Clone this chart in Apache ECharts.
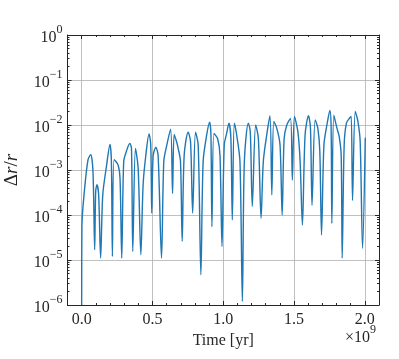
<!DOCTYPE html>
<html>
<head>
<meta charset="utf-8">
<script src="https://cdn.jsdelivr.net/npm/echarts@6/dist/echarts.min.js"></script>
<style>
  html, body { margin: 0; padding: 0; background: #fff; }
  #main { width: 399px; height: 359px; }
</style>
</head>
<body>
<div id="main"></div>
<script>
// time in yr, relative change of r
const timeYr = [
  0.000e9, 0.002e9, 0.021e9, 0.045e9, 0.064e9, 0.080e9, 0.092e9, 0.099e9, 0.108e9, 0.120e9,
  0.134e9, 0.149e9, 0.175e9, 0.200e9, 0.210e9, 0.217e9, 0.229e9, 0.257e9, 0.271e9, 0.283e9,
  0.297e9, 0.316e9, 0.340e9, 0.352e9, 0.361e9, 0.380e9, 0.399e9, 0.418e9, 0.434e9, 0.453e9,
  0.476e9, 0.488e9, 0.495e9, 0.505e9, 0.524e9, 0.540e9, 0.564e9, 0.580e9, 0.599e9, 0.628e9,
  0.642e9, 0.653e9, 0.670e9, 0.682e9, 0.698e9, 0.710e9, 0.724e9, 0.752e9, 0.769e9, 0.784e9,
  0.804e9, 0.823e9, 0.842e9, 0.858e9, 0.883e9, 0.904e9, 0.913e9, 0.920e9, 0.934e9, 0.960e9,
  0.977e9, 0.991e9, 1.007e9, 1.024e9, 1.040e9, 1.054e9, 1.064e9, 1.078e9, 1.095e9, 1.118e9,
  1.135e9, 1.149e9, 1.177e9, 1.191e9, 1.205e9, 1.229e9, 1.248e9, 1.267e9, 1.283e9, 1.307e9,
  1.330e9, 1.343e9, 1.357e9, 1.378e9, 1.401e9, 1.416e9, 1.430e9, 1.449e9, 1.475e9, 1.488e9,
  1.503e9, 1.527e9, 1.543e9, 1.559e9, 1.578e9, 1.602e9, 1.616e9, 1.627e9, 1.649e9, 1.668e9,
  1.682e9, 1.694e9, 1.711e9, 1.732e9, 1.753e9, 1.762e9, 1.767e9, 1.781e9, 1.803e9, 1.819e9,
  1.833e9, 1.840e9, 1.854e9, 1.870e9, 1.894e9, 1.904e9, 1.913e9, 1.932e9, 1.951e9, 1.967e9,
  1.984e9, 2.003e9
];
const deltaR = [
  1.0e-6, 6.0e-5, 3.9e-4, 1.7e-3, 2.2e-3, 9.1e-4, 1.7e-5, 3.3e-4, 4.7e-4, 2.8e-4,
  1.1e-5, 2.8e-4, 1.2e-3, 3.7e-3, 1.55e-3, 1.2e-5, 1.7e-3, 1.3e-3, 6.5e-4, 1.1e-5,
  1.55e-3, 2.6e-3, 3.9e-3, 3.0e-3, 1.55e-5, 3.0e-3, 1.1e-3, 1.3e-5, 4.7e-4, 2.1e-3,
  6.3e-3, 3.6e-3, 1.1e-4, 2.1e-3, 3.2e-3, 2.1e-3, 1.1e-5, 1.55e-3, 3.3e-3, 8.1e-3,
  3.0e-4, 6.2e-3, 4.3e-3, 3.0e-3, 1.55e-3, 2.6e-5, 2.1e-3, 6.9e-3, 4.3e-3, 1.1e-4,
  6.9e-3, 3.6e-3, 4.7e-6, 1.55e-3, 6.0e-3, 1.15e-2, 6.0e-3, 5.5e-5, 6.5e-3, 5.0e-3,
  2.1e-3, 2.0e-5, 3.6e-3, 6.5e-3, 1.1e-2, 5.0e-3, 7.8e-5, 1.1e-2, 6.0e-3, 1.55e-3,
  1.2e-6, 1.55e-3, 1.1e-2, 7.1e-3, 1.55e-4, 1.0e-2, 5.0e-3, 8.5e-5, 1.55e-3, 6.0e-3,
  1.6e-2, 2.8e-4, 1.2e-2, 8.5e-3, 3.6e-3, 1.0e-4, 5.0e-3, 1.0e-2, 1.4e-2, 6.0e-4,
  1.55e-2, 7.1e-3, 1.55e-3, 6.0e-5, 6.0e-3, 1.6e-2, 8.5e-3, 1.65e-4, 1.3e-2, 8.5e-3,
  2.6e-3, 3.6e-5, 3.6e-3, 1.0e-2, 2.1e-2, 8.5e-3, 6.5e-5, 1.65e-2, 8.5e-3, 5.5e-3,
  2.1e-3, 1.1e-5, 3.6e-3, 1.1e-2, 1.45e-2, 1.55e-2, 2.1e-4, 2.0e-2, 1.2e-2, 4.3e-3,
  1.8e-5, 5.2e-3
];
// tick positions
const xMajorTicks = [0, 0.5e9, 1.0e9, 1.5e9, 2.0e9];
const yMinorLogTicks = [];
for (let n = -6; n < 0; n++) {
  for (let k = 2; k <= 9; k++) yMinorLogTicks.push(n + Math.log10(k));
}

const F = '"Liberation Serif", "DejaVu Serif", serif';
const txt = '#262626';
const axisCol = '#262626';
const gridCol = '#b0b0b0';

const chart = echarts.init(document.getElementById('main'));
chart.setOption({
  backgroundColor: '#fff',
  animation: false,
  grid: { left: 67.5, right: 20, top: 35, bottom: 54, outerBoundsMode: 'none' },
  xAxis: [
    {
      type: 'value', position: 'bottom', min: -1e8, max: 2.1e9,
      axisLine: { show: true, onZero: false, lineStyle: { color: axisCol, width: 1 } },
      axisTick: { show: true, inside: true, length: 4, customValues: xMajorTicks, lineStyle: { color: axisCol } },
      axisLabel: {
        customValues: xMajorTicks, margin: 7,
        formatter: v => (v / 1e9).toFixed(1),
        fontFamily: F, fontSize: 16, color: txt
      },
      splitLine: { show: true, lineStyle: { color: gridCol, width: 0.8 } },
      name: 'Time [yr]', nameLocation: 'middle', nameGap: 28,
      nameTextStyle: { fontFamily: F, fontSize: 16, color: txt }
    },
    {
      // minor ticks bottom
      type: 'value', position: 'bottom', min: -1e8, max: 2.1e9, interval: 1e8,
      axisLine: { show: false, onZero: false },
      axisTick: { show: true, inside: true, length: 2, lineStyle: { color: axisCol } },
      axisLabel: { show: false }, splitLine: { show: false }
    },
    {
      // minor ticks top
      type: 'value', position: 'top', min: -1e8, max: 2.1e9, interval: 1e8,
      axisLine: { show: false, onZero: false },
      axisTick: { show: true, inside: true, length: 2, lineStyle: { color: axisCol } },
      axisLabel: { show: false }, splitLine: { show: false }
    },
    {
      type: 'value', position: 'top', min: -1e8, max: 2.1e9,
      axisLine: { show: true, onZero: false, lineStyle: { color: axisCol, width: 1 } },
      axisTick: { show: true, inside: true, length: 4, customValues: xMajorTicks, lineStyle: { color: axisCol } },
      axisLabel: { show: false }, splitLine: { show: false }
    }
  ],
  yAxis: [
    {
      type: 'log', logBase: 10, position: 'left', min: 1e-6, max: 1,
      axisLine: { show: true, onZero: false, lineStyle: { color: axisCol, width: 1 } },
      axisTick: { show: true, inside: true, length: 4, lineStyle: { color: axisCol } },
      axisLabel: {
        margin: 5,
        formatter: v => {
          const n = Math.round(Math.log10(v));
          return '{b|10}{e|' + (n < 0 ? '\u2212' + (-n) : n) + '}';
        },
        rich: {
          b: { fontFamily: F, fontSize: 16, color: txt, lineHeight: 22, verticalAlign: 'bottom' },
          e: { fontFamily: F, fontSize: 12, color: txt, lineHeight: 12, verticalAlign: 'top' }
        }
      },
      splitLine: { show: true, lineStyle: { color: gridCol, width: 0.8 } },
      name: '{d|\u0394}{i|r}{d|/}{i|r}', nameLocation: 'middle', nameGap: 46, nameRotate: 90,
      nameTextStyle: {
        rich: {
          d: { fontFamily: F, fontSize: 19, color: txt },
          i: { fontFamily: F, fontSize: 19, fontStyle: 'italic', color: txt }
        }
      }
    },
    {
      // minor ticks left
      type: 'value', position: 'left', min: -6, max: 0,
      axisLine: { show: false, onZero: false },
      axisTick: { show: true, inside: true, length: 2, customValues: yMinorLogTicks, lineStyle: { color: axisCol } },
      axisLabel: { show: false }, splitLine: { show: false }
    },
    {
      // minor ticks right
      type: 'value', position: 'right', min: -6, max: 0,
      axisLine: { show: false, onZero: false },
      axisTick: { show: true, inside: true, length: 2, customValues: yMinorLogTicks, lineStyle: { color: axisCol } },
      axisLabel: { show: false }, splitLine: { show: false }
    },
    {
      type: 'value', position: 'right', min: -6, max: 0, interval: 1,
      axisLine: { show: true, onZero: false, lineStyle: { color: axisCol, width: 1 } },
      axisTick: { show: true, inside: true, length: 4, lineStyle: { color: axisCol } },
      axisLabel: { show: false }, splitLine: { show: false }
    }
  ],
  graphic: [
    {
      type: 'text', x: 376, y: 335,
      style: {
        text: '{b|\u00d710}{e|9}', align: 'right', verticalAlign: 'middle',
        rich: {
          b: { fontFamily: F, fontSize: 16, fill: txt, lineHeight: 22, verticalAlign: 'bottom' },
          e: { fontFamily: F, fontSize: 12, fill: txt, lineHeight: 12, verticalAlign: 'top' }
        }
      }
    }
  ],
  series: [
    {
      type: 'line', xAxisIndex: 0, yAxisIndex: 0,
      data: timeYr.map((t, i) => [t, deltaR[i]]),
      showSymbol: false, smooth: 0.3,
      lineStyle: { color: '#1f77b4', width: 1.4 },
      itemStyle: { color: '#1f77b4' }
    }
  ]
});
</script>
</body>
</html>
